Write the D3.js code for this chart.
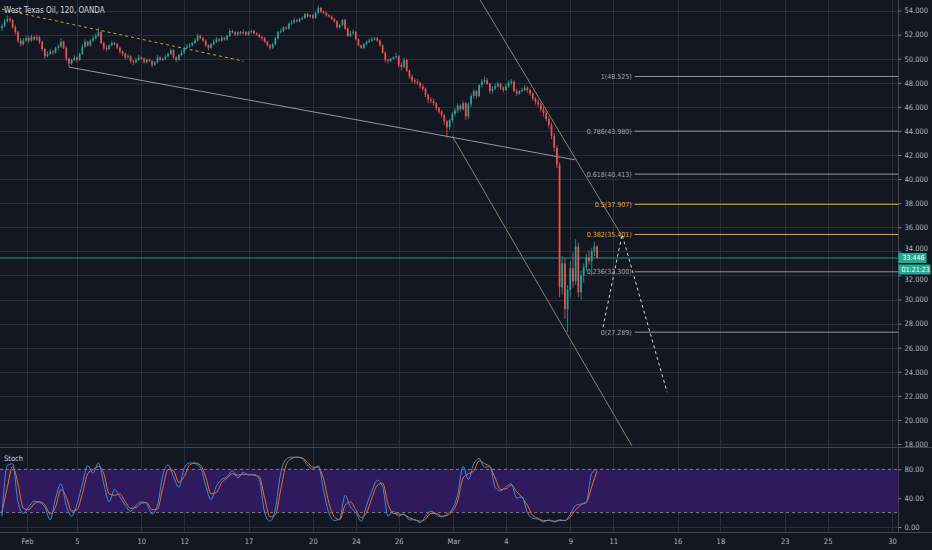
<!DOCTYPE html>
<html>
<head>
<meta charset="utf-8">
<script src="https://cdn.jsdelivr.net/npm/d3@7"></script>
<style>
  html, body { margin: 0; padding: 0; background: #131722; }
  svg { display: block; font-family: "Liberation Sans Narrow", "DejaVu Sans Condensed", Roboto, sans-serif; }
</style>
</head>
<body>
<div id="chart"></div>
<script>
// ---- data (WTI, 120 min bars) ----
var opens = [
52.5,52.7,53.1,53.3,53.2,52.6,52.2,51.5,51.2,51.5,
51.7,51.5,51.8,51.6,51.8,51.4,50.8,50.2,50.4,50.6,
50.5,50.9,51.0,51.4,50.9,50.0,49.6,49.9,50.1,49.9,
50.4,51.0,51.4,51.1,51.5,51.7,51.9,52.2,51.3,50.9,
50.8,51.1,51.3,51.2,50.9,50.6,50.4,50.1,50.2,49.8,
49.7,49.9,50.1,50.0,49.7,49.9,49.8,49.5,49.7,50.1,
49.9,50.0,50.2,50.4,50.7,50.1,49.9,50.3,50.5,50.9,
51.0,51.1,51.3,51.5,51.9,51.7,51.5,51.1,50.9,51.2,
51.4,51.6,51.5,51.7,51.6,51.9,52.3,52.2,52.0,52.2,
52.1,52.2,52.0,52.2,52.3,52.1,52.0,51.8,51.7,51.4,
51.1,50.9,51.2,51.7,52.2,52.3,52.6,52.5,52.9,53.0,
53.2,53.1,53.3,53.4,53.7,53.5,53.6,53.4,53.8,54.2,
53.9,53.8,53.6,53.5,53.3,53.1,52.6,52.8,53.2,52.5,
51.9,52.1,52.2,51.6,51.1,50.9,51.2,51.4,51.5,51.6,
51.7,51.5,51.1,50.5,49.9,49.8,50.0,50.1,50.2,49.5,
49.3,49.9,49.0,48.5,48.2,48.1,48.0,47.7,47.5,47.0,
46.6,46.5,46.3,45.9,45.6,45.3,44.8,44.3,44.9,45.4,
45.7,46.1,45.8,46.3,45.2,46.2,46.9,47.3,46.9,47.8,
48.1,48.2,47.9,47.3,47.5,47.7,47.9,47.6,47.4,47.7,
48.0,48.1,47.3,47.1,47.3,47.4,47.6,47.4,47.1,46.7,
46.4,46.2,45.8,45.5,45.0,44.5,43.6,42.6,
41.2,31.0,33.0,29.2,30.8,32.6,31.5,34.4,30.6,32.0,32.7,33.5,33.2,34.0,34.4
];
var highs = [
52.9,53.3,53.6,53.5,53.3,52.8,52.3,51.7,51.7,51.9,
51.9,52.0,51.9,52.0,51.9,51.5,50.9,50.6,50.8,50.7,
51.0,51.2,51.7,51.5,51.0,50.1,50.0,50.3,50.2,50.5,
51.2,51.6,51.5,51.6,51.9,52.1,52.6,52.3,51.4,51.1,
51.2,51.5,51.4,51.3,51.0,50.7,50.5,50.4,50.3,49.9,
50.1,50.3,50.2,50.1,50.0,50.0,49.9,49.8,50.3,50.2,
50.1,50.3,50.5,50.9,50.8,50.2,50.4,50.7,51.0,51.2,
51.3,51.4,51.7,52.1,52.0,51.8,51.6,51.2,51.3,51.6,
51.8,51.7,51.9,51.8,52.0,52.5,52.4,52.3,52.3,52.3,
52.4,52.3,52.3,52.4,52.4,52.2,52.1,51.9,51.8,51.5,
51.2,51.3,51.8,52.3,52.5,52.7,52.7,53.0,53.2,53.4,
53.3,53.4,53.5,53.8,53.8,53.7,53.7,53.9,54.4,54.3,
54.0,53.9,53.7,53.6,53.4,53.2,52.9,53.3,53.3,52.6,
52.3,52.4,52.3,51.7,51.2,51.3,51.5,51.7,51.8,51.8,
51.8,51.6,51.2,50.6,50.0,50.1,50.2,50.5,50.3,49.7,
50.1,50.0,49.1,48.7,48.4,48.3,48.1,47.9,47.6,47.1,
46.8,46.7,46.4,46.0,45.7,45.4,44.9,45.0,45.6,45.9,
46.3,46.2,46.5,46.4,46.4,47.1,47.5,47.4,47.9,48.3,
48.525,48.4,48.0,47.7,47.9,48.1,48.0,47.7,47.9,48.2,
48.3,48.2,47.5,47.4,47.6,47.8,47.7,47.5,47.2,46.8,
46.6,46.4,46.0,45.7,45.2,44.7,43.8,42.8,
41.4,33.6,33.4,31.2,33.2,33.9,35.0,34.7,32.4,33.0,33.8,34.1,34.3,34.8,34.5
];
var lows = [
52.3,52.6,53.0,53.0,52.5,52.0,51.3,51.0,51.1,51.4,
51.3,51.4,51.5,51.5,51.2,50.6,50.0,50.1,50.3,50.3,
50.4,50.7,50.9,50.8,49.8,49.3,49.5,49.8,49.7,49.8,
50.3,50.9,51.0,51.0,51.4,51.6,51.8,51.2,50.7,50.6,
50.7,51.0,51.1,50.8,50.4,50.2,49.9,50.0,49.6,49.5,
49.6,49.8,49.9,49.6,49.6,49.7,49.3,49.4,49.6,49.8,
49.8,49.9,50.1,50.3,50.0,49.7,49.8,50.2,50.4,50.8,
50.9,51.0,51.2,51.4,51.6,51.4,51.0,50.7,50.8,51.1,
51.3,51.4,51.4,51.5,51.5,51.8,52.1,51.9,51.9,52.0,
52.0,51.9,51.9,52.1,52.0,51.9,51.7,51.5,51.3,51.0,
50.7,50.8,51.1,51.6,52.1,52.2,52.4,52.4,52.8,52.9,
53.0,53.0,53.2,53.3,53.4,53.4,53.3,53.3,53.7,53.8,
53.7,53.5,53.4,53.2,53.0,52.5,52.5,52.7,52.4,51.8,
51.8,52.0,51.5,51.0,50.8,50.8,51.1,51.3,51.4,51.5,
51.4,51.0,50.4,49.7,49.6,49.7,49.9,50.0,49.3,49.0,
49.2,48.9,48.3,48.0,47.9,47.8,47.5,47.3,46.8,46.3,
46.3,46.1,45.7,45.4,45.1,44.5,43.4,44.1,44.7,45.2,
45.5,45.6,45.7,44.9,45.0,46.0,46.7,46.7,46.8,47.6,
47.9,47.8,47.1,47.1,47.4,47.6,47.4,47.2,47.3,47.6,
47.8,47.2,46.9,47.0,47.2,47.3,47.2,46.9,46.5,46.2,
46.0,45.6,45.2,44.8,44.2,43.3,42.3,40.9,
30.2,30.4,28.4,27.289,30.2,31.0,31.2,30.2,30.0,31.4,32.4,32.9,32.0,33.6,33.4
];
var closes = [
52.7,53.1,53.3,53.2,52.6,52.2,51.5,51.2,51.5,51.7,
51.5,51.8,51.6,51.8,51.4,50.8,50.2,50.4,50.6,50.5,
50.9,51.0,51.4,50.9,50.0,49.6,49.9,50.1,49.9,50.4,
51.0,51.4,51.1,51.5,51.7,51.9,52.2,51.3,50.9,50.8,
51.1,51.3,51.2,50.9,50.6,50.4,50.1,50.2,49.8,49.7,
49.9,50.1,50.0,49.7,49.9,49.8,49.5,49.7,50.1,49.9,
50.0,50.2,50.4,50.7,50.1,49.9,50.3,50.5,50.9,51.0,
51.1,51.3,51.5,51.9,51.7,51.5,51.1,50.9,51.2,51.4,
51.6,51.5,51.7,51.6,51.9,52.3,52.2,52.0,52.2,52.1,
52.2,52.0,52.2,52.3,52.1,52.0,51.8,51.7,51.4,51.1,
50.9,51.2,51.7,52.2,52.3,52.6,52.5,52.9,53.0,53.2,
53.1,53.3,53.4,53.7,53.5,53.6,53.4,53.8,54.2,53.9,
53.8,53.6,53.5,53.3,53.1,52.6,52.8,53.2,52.5,51.9,
52.1,52.2,51.6,51.1,50.9,51.2,51.4,51.5,51.6,51.7,
51.5,51.1,50.5,49.9,49.8,50.0,50.1,50.2,49.5,49.3,
49.9,49.0,48.5,48.2,48.1,48.0,47.7,47.5,47.0,46.6,
46.5,46.3,45.9,45.6,45.3,44.8,44.3,44.9,45.4,45.7,
46.1,45.8,46.3,45.2,46.2,46.9,47.3,46.9,47.8,48.1,
48.2,47.9,47.3,47.5,47.7,47.9,47.6,47.4,47.7,48.0,
48.1,47.3,47.1,47.3,47.4,47.6,47.4,47.1,46.7,46.4,
46.2,45.8,45.5,45.0,44.5,43.6,42.6,41.2,
31.0,33.0,29.2,30.8,32.6,31.5,34.4,30.6,32.0,32.7,33.5,33.2,34.0,34.4,33.446
];

// stochastic, one value every 2 bars
var stochK = [15,85,88,35,19,28,36,34,28,10, 40,60,30,15,32,60,85,75,89,60,
  35,52,42,30,22,30,35,32,18,30, 72,86,70,55,82,89,88,83,58,38,
  57,66,70,78,68,76,72,73,66,20, 8,25,75,94,97,97,95,86,80,85,
  50,19,9,12,44,28,20,8,30,50, 65,56,15,22,15,18,10,10,6,15,
  22,17,14,18,25,45,84,66,88,95, 83,84,55,50,56,60,40,42,20,12,
  11,7,10,7,10,9,18,30,32,35, 75,80];
var stochD = [20,55,84,60,26,24,32,35,31,18, 28,52,42,22,24,46,74,80,84,74,
  46,44,46,35,26,27,33,34,24,25, 54,80,78,62,70,86,89,86,70,46,
  48,62,68,74,72,73,73,72,70,40, 14,17,52,86,95,97,96,90,83,83,
  66,33,14,10,30,35,24,13,20,40, 58,61,32,19,18,17,13,10,8,11,
  19,19,15,16,22,36,68,74,78,92, 88,84,68,52,53,58,49,41,30,16,
  12,9,9,8,9,9,14,24,31,34, 56,78];

// fibonacci retracement
var fibRatios = [1, 0.786, 0.618, 0.5, 0.382, 0.236, 0];
var fibPrices = [48.525, 43.980, 40.413, 37.907, 35.401, 32.300, 27.289];

// axis ticks (trading-day index, Feb 3 = 0)
var tickDays = [-0.33, 2, 5, 7, 10, 13, 15, 17, 19.55, 22, 25, 27, 30, 32, 35, 37, 40];
var tickLabels = ["Feb","5","10","12","17","20","24","26","Mar","4","9","11","16","18","23","25","30"];
var priceTicks = [18,20,22,24,26,28,30,32,34,36,38,40,42,44,46,48,50,52,54];
var stochTicks = [0, 40, 80];

// drawings (bar index, price)
var wedgeBars = [0, 90], wedgePrices = [54.1, 49.8];
var supportBars = [25, 213.7], supportPrices = [49.3, 41.6];
var chanTopBars = [178.3, 230.9], chanTopPrices = [54.9, 35.4];
var chanLowBars = [168, 235], chanLowPrices = [43.55, 17.85];
var projBars = [224.2, 231.3, 248.1], projPrices = [27.7, 35.4, 22.3];

var title = "West Texas Oil, 120, OANDA";
var countdown = "01:21:23";

// ---- layout ----
var W = 932, H = 550;
var paneRight = 898.5, mainBottom = 447.5, axisY = 532.5;
var gridColor = "#2a2e39", textColor = "#b2b5be";
var upColor = "#26a69a", downColor = "#ef5350";

var xDay = d3.scaleLinear().domain([2, 40]).range([77, 892]);
var barsPerDay = 8, firstBarDay = -1.5;
function barX(i) { return xDay(firstBarDay + i / barsPerDay); }
var y = d3.scaleLinear().domain([18, 54]).range([444, 10.5]);
var yS = d3.scaleLinear().domain([0, 100]).range([527, 455]);

var svg = d3.select("#chart").append("svg")
    .attr("width", W).attr("height", H);
svg.append("rect").attr("width", W).attr("height", H).attr("fill", "#131722");

var defs = svg.append("defs");
defs.append("clipPath").attr("id", "clipMain").append("rect")
    .attr("width", paneRight).attr("height", mainBottom);
defs.append("clipPath").attr("id", "clipStoch").append("rect")
    .attr("y", mainBottom).attr("width", paneRight).attr("height", axisY - mainBottom);

// grid
var grid = svg.append("g").attr("stroke", gridColor).attr("stroke-width", 1);
grid.selectAll(".vg").data(tickDays).join("line")
    .attr("x1", function(d) { return Math.round(xDay(d)) + 0.5; })
    .attr("x2", function(d) { return Math.round(xDay(d)) + 0.5; })
    .attr("y1", 0).attr("y2", axisY);
grid.selectAll(".hg").data(priceTicks).join("line")
    .attr("x1", 0).attr("x2", paneRight)
    .attr("y1", function(d) { return Math.round(y(d)) + 0.5; })
    .attr("y2", function(d) { return Math.round(y(d)) + 0.5; });
grid.selectAll(".sg").data(stochTicks).join("line")
    .attr("x1", 0).attr("x2", paneRight)
    .attr("y1", function(d) { return Math.round(yS(d)) + 0.5; })
    .attr("y2", function(d) { return Math.round(yS(d)) + 0.5; });

// pane borders
svg.append("line").attr("x1", 0).attr("x2", W).attr("y1", mainBottom).attr("y2", mainBottom)
    .attr("stroke", "#434651");
svg.append("line").attr("x1", 0).attr("x2", W).attr("y1", axisY).attr("y2", axisY)
    .attr("stroke", "#434651");
svg.append("line").attr("x1", paneRight).attr("x2", paneRight).attr("y1", 0).attr("y2", axisY)
    .attr("stroke", "#434651");

// ---- main pane ----
var main = svg.append("g").attr("clip-path", "url(#clipMain)");
var line = d3.line();

function drawTrend(bars, prices, color, dash, width) {
  main.append("path")
    .datum(bars.map(function(b, k) { return [barX(b), y(prices[k])]; }))
    .attr("d", line)
    .attr("fill", "none")
    .attr("stroke", color)
    .attr("stroke-width", width || 1)
    .attr("stroke-dasharray", dash);
}
drawTrend(wedgeBars, wedgePrices, "#c9a227", "3,3");
drawTrend(supportBars, supportPrices, "#9598a1");
drawTrend(chanTopBars, chanTopPrices, "#8c7f6c");
drawTrend(chanLowBars, chanLowPrices, "#8c7f6c");

// fib levels
var fibStartDay = 28;
var fib = main.append("g");
fibRatios.forEach(function(r, k) {
  var orange = (r === 0.5 || r === 0.382);
  var yy = y(fibPrices[k]);
  fib.append("line")
    .attr("x1", xDay(fibStartDay)).attr("x2", paneRight)
    .attr("y1", yy).attr("y2", yy)
    .attr("stroke", orange ? "#f5a623" : "#9598a1").attr("stroke-width", 1);
  fib.append("text")
    .attr("x", xDay(fibStartDay) - 3).attr("y", yy)
    .attr("dy", "0.35em")
    .attr("text-anchor", "end")
    .attr("font-size", 7)
    .attr("fill", orange ? "#f5a623" : "#a3a6af")
    .text(r + "(" + fibPrices[k].toFixed(3) + ")");
});

// current price line
var last = closes[closes.length - 1];
main.append("line")
    .attr("x1", 0).attr("x2", paneRight)
    .attr("y1", y(last)).attr("y2", y(last))
    .attr("stroke", upColor).attr("stroke-opacity", 0.85);

// candles
var candles = closes.map(function(c, i) {
  var o = opens[i];
  return { i: i, o: o, c: c,
    h: Math.max(highs[i], o, c), l: Math.min(lows[i], o, c) };
});
var cg = main.append("g");
cg.selectAll(".wick").data(candles).join("line")
    .attr("x1", function(d) { return barX(d.i); })
    .attr("x2", function(d) { return barX(d.i); })
    .attr("y1", function(d) { return y(d.h); })
    .attr("y2", function(d) { return y(d.l); })
    .attr("stroke", function(d) { return d.c >= d.o ? upColor : downColor; })
    .attr("stroke-width", 0.8);
cg.selectAll(".body").data(candles).join("rect")
    .attr("x", function(d) { return barX(d.i) - 0.85; })
    .attr("width", 1.7)
    .attr("y", function(d) { return y(Math.max(d.o, d.c)); })
    .attr("height", function(d) { return Math.max(0.8, Math.abs(y(d.o) - y(d.c))); })
    .attr("fill", function(d) { return d.c >= d.o ? upColor : downColor; });

// projection path
drawTrend(projBars, projPrices, "#d1d4dc", "3,3");

// title
svg.append("text").attr("x", 4).attr("y", 13)
    .attr("font-size", 8).attr("fill", "#d1d4dc").text(title);

// ---- stochastic pane ----
var st = svg.append("g").attr("clip-path", "url(#clipStoch)");
st.append("rect")
    .attr("x", 0).attr("width", paneRight)
    .attr("y", yS(80)).attr("height", yS(20) - yS(80))
    .attr("fill", "#2e1a5c");
[80, 20].forEach(function(v) {
  st.append("line").attr("x1", 0).attr("x2", paneRight)
    .attr("y1", yS(v)).attr("y2", yS(v))
    .attr("stroke", "#787b86").attr("stroke-dasharray", "3,3");
});
var sLine = d3.line()
    .x(function(d, j) { return barX(j * 2); })
    .y(function(d) { return yS(d); })
    .curve(d3.curveMonotoneX);
st.append("path").datum(stochD).attr("d", sLine)
    .attr("fill", "none").attr("stroke", "#ff6d00").attr("stroke-width", 1);
st.append("path").datum(stochK).attr("d", sLine)
    .attr("fill", "none").attr("stroke", "#2f8ff0").attr("stroke-width", 1);
svg.append("text").attr("x", 4).attr("y", 461)
    .attr("font-size", 7.5).attr("fill", "#d1d4dc").text("Stoch");

// ---- axes ----
var ly = y(last);
function styleAxis(g) {
  g.select(".domain").remove();
  g.selectAll(".tick line").attr("stroke", "#787b86");
  g.selectAll(".tick text").attr("fill", textColor).attr("font-size", 7.5);
  g.attr("font-family", null);
}
var yAxisG = svg.append("g")
    .attr("transform", "translate(" + paneRight + ",0)")
    .call(d3.axisRight(y).tickValues(priceTicks).tickSize(3).tickPadding(3)
      .tickFormat(d3.format(".3f")))
    .call(styleAxis);
// nudge the labels next to the last-price boxes so they stay readable
yAxisG.selectAll(".tick text")
    .attr("y", function(d) {
      var dy = y(d) - ly;
      if (dy < 0 && dy > -10) return -3;
      if (dy > 0 && dy < 22) return 3.5;
      return 0;
    });
svg.append("g")
    .attr("transform", "translate(" + paneRight + ",0)")
    .call(d3.axisRight(yS).tickValues(stochTicks).tickSize(3).tickPadding(3)
      .tickFormat(d3.format(".2f")))
    .call(styleAxis);
svg.append("g")
    .attr("transform", "translate(0," + axisY + ")")
    .call(d3.axisBottom(xDay).tickValues(tickDays).tickSize(0).tickPadding(6.5)
      .tickFormat(function(d, i) { return tickLabels[i]; }))
    .call(styleAxis);

// last price + countdown labels
svg.append("rect").attr("x", paneRight).attr("y", ly - 5)
    .attr("width", 28).attr("height", 10).attr("fill", "#22ab94");
svg.append("text").attr("x", paneRight + 4).attr("y", ly).attr("dy", "0.35em")
    .attr("font-size", 7).attr("fill", "#ffffff").text(d3.format(".3f")(last));
svg.append("rect").attr("x", paneRight).attr("y", ly + 6.5)
    .attr("width", 32).attr("height", 10).attr("fill", "#22ab94");
svg.append("text").attr("x", paneRight + 3).attr("y", ly + 11.5).attr("dy", "0.35em")
    .attr("font-size", 7).attr("fill", "#ffffff").text(countdown);
</script>
</body>
</html>
